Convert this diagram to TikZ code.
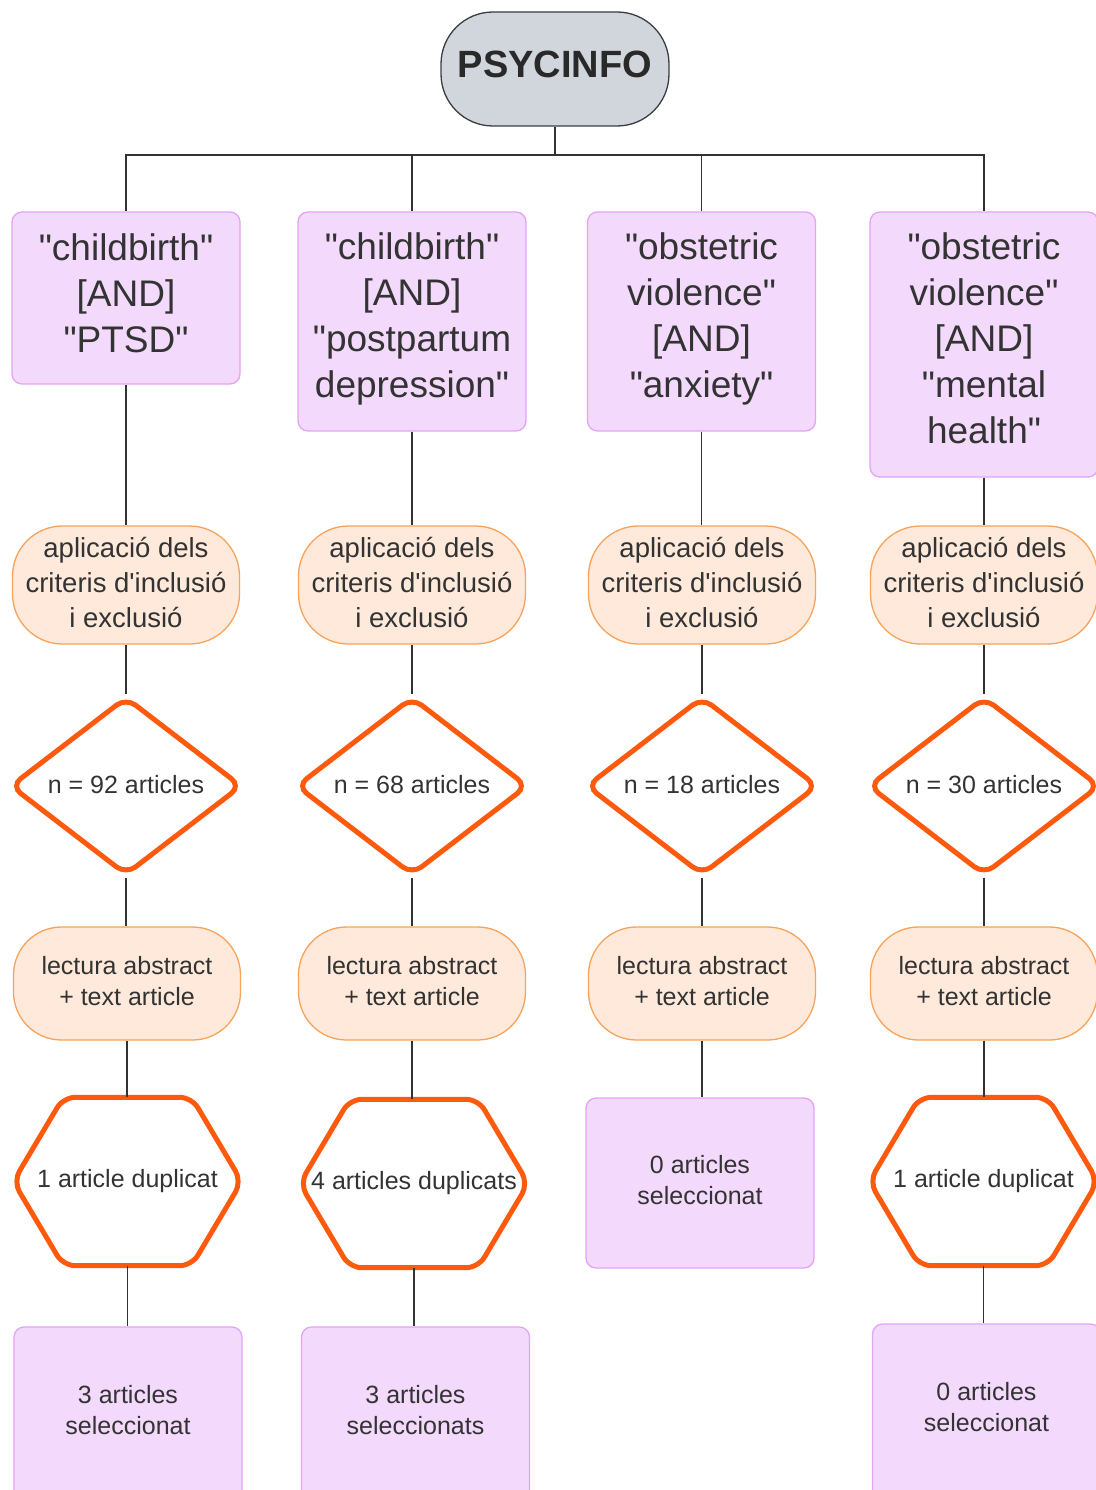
\documentclass[tikz,border=0pt]{standalone}
\usepackage{fontspec}
\setmainfont{Liberation Sans}[Ligatures=TeXOff]
\usetikzlibrary{shapes.geometric,calc}
\definecolor{pfill}{HTML}{F3D9FC}
\definecolor{pline}{HTML}{E3A4F5}
\definecolor{ofill}{HTML}{FEE9DB}
\definecolor{oline}{HTML}{F6A35B}
\definecolor{orng}{HTML}{FE5A0E}
\definecolor{gfill}{HTML}{D1D5DC}
\definecolor{gline}{HTML}{3A3D42}
\definecolor{txt}{HTML}{333333}
\definecolor{conn}{HTML}{333333}
\newcommand\dn[1]{\rule[-#1pt]{0pt}{#1pt}}
\begin{document}
\begin{tikzpicture}[x=1pt,y=-1pt,
  every node/.style={text=txt, align=center, inner sep=0pt},
  title/.style={draw=gline, fill=gfill, line width=1.3pt, rounded corners=52pt,
    minimum width=228pt, minimum height=114pt, text=txt!80!black,
    font=\fontsize{38}{46}\selectfont\bfseries},
  query/.style={draw=pline, fill=pfill, line width=1.3pt, rounded corners=10pt,
    minimum width=228pt, font=\fontsize{37}{46}\selectfont},
  result/.style={draw=pline, fill=pfill, line width=1.3pt, rounded corners=10pt,
    minimum width=228pt, font=\fontsize{25}{31}\selectfont},
  pill/.style={draw=oline, fill=ofill, line width=1.3pt, rounded corners=50pt,
    minimum width=227pt, font=\fontsize{27.5}{35}\selectfont},
  pilltwo/.style={draw=oline, fill=ofill, line width=1.3pt, rounded corners=48pt,
    minimum width=227pt, minimum height=113pt, font=\fontsize{25}{31}\selectfont},
  count/.style={shape=diamond, draw=orng, line width=5pt, rounded corners=12pt,
    minimum width=232pt, minimum height=161pt, font=\fontsize{25}{31}\selectfont},
  hexbox/.style={minimum width=228pt, minimum height=168pt, font=\fontsize{25}{31}\selectfont},
  hexline/.style={draw=orng, line width=5pt, rounded corners=12pt},
  conn/.style={draw=conn, line width=1.3pt}
]
\useasboundingbox (0,0) rectangle (1095,1490);

% title
\node[title] (t) at (555,69) {PSYCINFO\dn{10}};
\coordinate (bar) at (555,155);

% row 1
\node[query, minimum height=172pt] (b1) at (126,298) {"childbirth"\\{}[AND]\\"PTSD"\dn{10}};
\node[query, minimum height=219pt] (b2) at (412,321.5) {"childbirth"\\{}[AND]\\"postpartum\\depression"\dn{12}};
\node[query, minimum height=219pt] (b3) at (701.5,321.5) {"obstetric\\violence"\\{}[AND]\\"anxiety"\dn{12}};
\node[query, minimum height=265pt] (b4) at (984,344.5) {"obstetric\\violence"\\{}[AND]\\"mental\\health"\dn{12}};

% row 2
\foreach \i/\x in {1/126,2/412,3/702,4/984}{
  \node[pill, minimum height=118pt] (p\i) at (\x,585) {aplicació dels\\criteris d'inclusió\\i exclusió\dn{6}};
}

% row 3
\node[count] (d1) at (126,786) {n = 92 articles\dn{4}};
\node[count] (d2) at (412,786) {n = 68 articles\dn{4}};
\node[count] (d3) at (702,786) {n = 18 articles\dn{4}};
\node[count] (d4) at (984,786) {n = 30 articles\dn{4}};

% row 4
\foreach \i/\x in {1/127,2/412,3/702,4/984}{
  \node[pilltwo] (q\i) at (\x,983.5) {lectura abstract\\+ text article\dn{6}};
}

% row 5
\node[hexbox] (h1) at (127.5,1181.5) {1 article duplicat};
\node[hexbox] (h2) at (414,1183.5) {4 articles duplicats};
\node[result, minimum height=170pt] (r3) at (700,1183) {0 articles\\seleccionat\dn{6}};
\node[hexbox] (h4) at (983.5,1181.5) {1 article duplicat};
\foreach \h in {h1,h2,h4}{
  \draw[hexline] (\h.west) -- ($(\h.north west)+(50,0)$) -- ($(\h.north east)+(-50,0)$)
    -- (\h.east) -- ($(\h.south east)+(-50,0)$) -- ($(\h.south west)+(50,0)$) -- cycle;
}

% row 6
\node[result, minimum height=173pt] (s1) at (128,1413.5) {3 articles\\seleccionat\dn{8}};
\node[result, minimum height=173pt] (s2) at (415.5,1413.5) {3 articles\\seleccionats\dn{8}};
\node[result, minimum height=176pt] (s4) at (986.5,1412) {0 articles\\seleccionat\dn{10}};

% connectors
\draw[conn] (t.south) -- (bar);
\draw[conn] (bar) -| (b1.north);
\draw[conn] (bar) -| (b2.north);
\draw[conn] (bar) -| (b3.north);
\draw[conn] (bar) -| (b4.north);
\foreach \i in {1,2,3,4}{
  \draw[conn] (b\i.south) -- (b\i.south |- p\i.north);
  \draw[conn] (p\i.south) -- (p\i.south |- d\i.north);
  \draw[conn] (d\i.south) -- (d\i.south |- q\i.north);
}
\draw[conn] (q1.south) -- (q1.south |- h1.north);
\draw[conn] (q2.south) -- (q2.south |- h2.north);
\draw[conn] (q3.south) -- (q3.south |- r3.north);
\draw[conn] (q4.south) -- (q4.south |- h4.north);
\draw[conn] (h1.south) -- (h1.south |- s1.north);
\draw[conn] (h2.south) -- (h2.south |- s2.north);
\draw[conn] (h4.south) -- (h4.south |- s4.north);
\end{tikzpicture}
\end{document}
